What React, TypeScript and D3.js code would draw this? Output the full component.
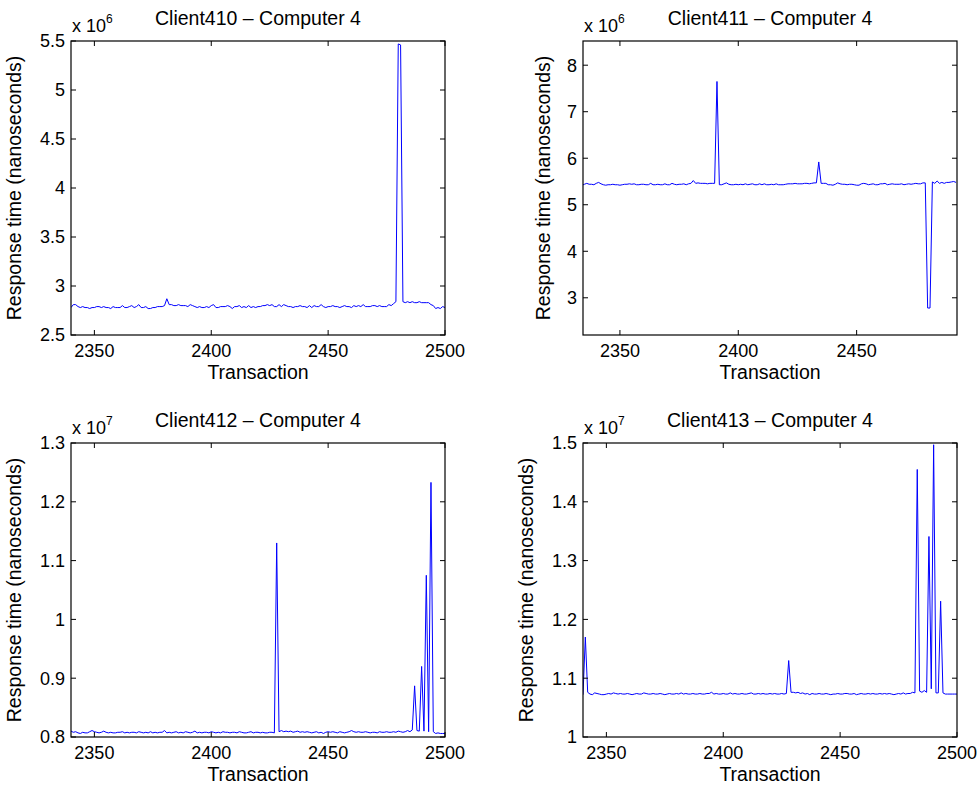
import React from "react";
import * as d3 from "d3";

// ---------- data ----------
const titles = ["Client410 – Computer 4", "Client411 – Computer 4", "Client412 – Computer 4", "Client413 – Computer 4"];
const exponents = ["6", "6", "7", "7"];
const startTransaction = [2340, 2334, 2340, 2340];
const xDomains: [number, number][] = [[2340, 2500], [2334.4, 2492.4], [2340, 2500], [2340, 2500]];
const yDomains: [number, number][] = [[2.5, 5.5], [2.2, 8.52], [0.8, 1.3], [1.0, 1.5]];
const xTicks = [[2350, 2400, 2450, 2500], [2350, 2400, 2450], [2350, 2400, 2450, 2500], [2350, 2400, 2450, 2500]];
const yTicks = [
  [2.5, 3, 3.5, 4, 4.5, 5, 5.5],
  [3, 4, 5, 6, 7, 8],
  [0.8, 0.9, 1, 1.1, 1.2, 1.3],
  [1, 1.1, 1.2, 1.3, 1.4, 1.5],
];

// Client410 (x 1e6), transactions 2340..2500
const client410 = [
  2.78, 2.81, 2.81, 2.79, 2.78, 2.79, 2.78, 2.78, 2.77, 2.78,
  2.78, 2.79, 2.79, 2.78, 2.79, 2.78, 2.78, 2.77, 2.79, 2.78,
  2.78, 2.78, 2.80, 2.78, 2.78, 2.79, 2.80, 2.78, 2.79, 2.81,
  2.78, 2.78, 2.79, 2.77, 2.77, 2.78, 2.78, 2.79, 2.79, 2.79,
  2.80, 2.87, 2.81, 2.81, 2.80, 2.80, 2.81, 2.80, 2.80, 2.80,
  2.79, 2.81, 2.80, 2.79, 2.78, 2.79, 2.78, 2.78, 2.79, 2.78,
  2.80, 2.81, 2.78, 2.78, 2.79, 2.79, 2.79, 2.80, 2.79, 2.77,
  2.79, 2.79, 2.80, 2.78, 2.79, 2.78, 2.80, 2.78, 2.79, 2.78,
  2.79, 2.79, 2.80, 2.80, 2.81, 2.80, 2.81, 2.79, 2.79, 2.81,
  2.79, 2.81, 2.80, 2.79, 2.79, 2.78, 2.79, 2.79, 2.80, 2.79,
  2.79, 2.78, 2.80, 2.78, 2.80, 2.79, 2.79, 2.81, 2.79, 2.78,
  2.79, 2.79, 2.80, 2.79, 2.79, 2.78, 2.79, 2.80, 2.79, 2.79,
  2.78, 2.80, 2.79, 2.80, 2.79, 2.81, 2.79, 2.79, 2.79, 2.80,
  2.80, 2.79, 2.80, 2.79, 2.79, 2.79, 2.81, 2.80, 2.82, 2.84,
  5.47, 5.46, 2.84, 2.83, 2.84, 2.83, 2.84, 2.83, 2.83, 2.84,
  2.83, 2.83, 2.83, 2.83, 2.81, 2.80, 2.77, 2.78, 2.77, 2.79,
  2.78,
];

// Client411 (x 1e6), transactions 2334..2492
const client411 = [
  5.42, 5.44, 5.46, 5.44, 5.44, 5.43, 5.46, 5.48, 5.45, 5.43,
  5.42, 5.43, 5.43, 5.44, 5.43, 5.43, 5.42, 5.43, 5.44, 5.44,
  5.45, 5.44, 5.45, 5.43, 5.43, 5.44, 5.44, 5.43, 5.43, 5.46,
  5.43, 5.43, 5.44, 5.43, 5.43, 5.45, 5.43, 5.43, 5.46, 5.44,
  5.43, 5.44, 5.44, 5.45, 5.43, 5.45, 5.46, 5.52, 5.46, 5.47,
  5.46, 5.46, 5.46, 5.45, 5.46, 5.46, 5.46, 7.65, 5.43, 5.43,
  5.45, 5.47, 5.44, 5.43, 5.43, 5.44, 5.43, 5.44, 5.43, 5.45,
  5.43, 5.44, 5.45, 5.43, 5.43, 5.45, 5.43, 5.45, 5.43, 5.43,
  5.44, 5.43, 5.45, 5.43, 5.43, 5.43, 5.44, 5.45, 5.45, 5.45,
  5.46, 5.45, 5.45, 5.45, 5.46, 5.46, 5.45, 5.46, 5.47, 5.47,
  5.92, 5.46, 5.46, 5.46, 5.43, 5.43, 5.42, 5.44, 5.47, 5.45,
  5.44, 5.44, 5.43, 5.44, 5.44, 5.43, 5.42, 5.42, 5.45, 5.46,
  5.45, 5.43, 5.44, 5.45, 5.43, 5.43, 5.45, 5.45, 5.46, 5.43,
  5.44, 5.45, 5.44, 5.44, 5.44, 5.45, 5.43, 5.44, 5.45, 5.44,
  5.45, 5.46, 5.45, 5.45, 5.47, 5.47, 2.78, 2.78, 5.49, 5.46,
  5.51, 5.46, 5.48, 5.46, 5.48, 5.48, 5.49, 5.50, 5.48,
];

// Client412 (x 1e7), transactions 2340..2500
const client412 = [
  0.810, 0.808, 0.809, 0.807, 0.806, 0.808, 0.807, 0.807, 0.809, 0.811,
  0.809, 0.808, 0.807, 0.808, 0.810, 0.808, 0.807, 0.808, 0.807, 0.807,
  0.808, 0.808, 0.809, 0.807, 0.808, 0.807, 0.808, 0.808, 0.807, 0.809,
  0.808, 0.807, 0.808, 0.807, 0.809, 0.807, 0.808, 0.807, 0.808, 0.808,
  0.811, 0.807, 0.808, 0.807, 0.808, 0.809, 0.807, 0.808, 0.807, 0.809,
  0.808, 0.807, 0.808, 0.810, 0.807, 0.808, 0.807, 0.808, 0.808, 0.807,
  0.809, 0.808, 0.807, 0.808, 0.807, 0.809, 0.808, 0.808, 0.807, 0.808,
  0.808, 0.807, 0.809, 0.808, 0.807, 0.807, 0.808, 0.809, 0.807, 0.808,
  0.808, 0.807, 0.808, 0.807, 0.807, 0.808, 0.808, 0.807, 1.130, 0.809,
  0.811, 0.809, 0.810, 0.809, 0.810, 0.808, 0.809, 0.810, 0.808, 0.809,
  0.808, 0.809, 0.808, 0.807, 0.808, 0.809, 0.807, 0.808, 0.806, 0.808,
  0.809, 0.808, 0.809, 0.808, 0.807, 0.809, 0.808, 0.807, 0.808, 0.809,
  0.811, 0.809, 0.808, 0.809, 0.808, 0.808, 0.809, 0.808, 0.807, 0.808,
  0.808, 0.807, 0.809, 0.808, 0.808, 0.809, 0.808, 0.808, 0.809, 0.808,
  0.810, 0.809, 0.808, 0.809, 0.811, 0.809, 0.812, 0.887, 0.811, 0.810,
  0.920, 0.810, 1.075, 0.809, 1.233, 0.809, 0.806, 0.807, 0.806, 0.806,
  0.806,
];

// Client413 (x 1e7), transactions 2340..2500
const client413 = [
  1.072, 1.170, 1.076, 1.073, 1.072, 1.075, 1.074, 1.073, 1.072, 1.072,
  1.073, 1.074, 1.073, 1.075, 1.074, 1.073, 1.074, 1.073, 1.073, 1.074,
  1.073, 1.072, 1.073, 1.074, 1.073, 1.073, 1.075, 1.074, 1.073, 1.073,
  1.074, 1.073, 1.073, 1.074, 1.073, 1.072, 1.073, 1.074, 1.073, 1.073,
  1.074, 1.073, 1.075, 1.073, 1.074, 1.073, 1.073, 1.074, 1.073, 1.073,
  1.074, 1.073, 1.073, 1.074, 1.074, 1.076, 1.073, 1.074, 1.073, 1.073,
  1.074, 1.073, 1.073, 1.075, 1.073, 1.074, 1.073, 1.073, 1.074, 1.073,
  1.073, 1.074, 1.075, 1.073, 1.073, 1.074, 1.073, 1.074, 1.073, 1.073,
  1.074, 1.073, 1.074, 1.073, 1.073, 1.074, 1.073, 1.074, 1.130, 1.076,
  1.076, 1.075, 1.076, 1.074, 1.075, 1.073, 1.074, 1.072, 1.074, 1.073,
  1.073, 1.074, 1.073, 1.073, 1.074, 1.073, 1.072, 1.073, 1.073, 1.074,
  1.073, 1.073, 1.074, 1.074, 1.073, 1.073, 1.074, 1.072, 1.073, 1.074,
  1.073, 1.073, 1.074, 1.073, 1.074, 1.073, 1.073, 1.074, 1.073, 1.074,
  1.073, 1.074, 1.073, 1.072, 1.073, 1.074, 1.073, 1.075, 1.073, 1.074,
  1.074, 1.076, 1.075, 1.455, 1.078, 1.076, 1.079, 1.076, 1.341, 1.082,
  1.497, 1.075, 1.075, 1.231, 1.075, 1.073, 1.073, 1.073, 1.073, 1.073,
  1.073,
];

const seriesList = [client410, client411, client412, client413];

// ---------- layout ----------
const W = 980;
const H = 793;
const colX = [71, 583];
const rowY = [41, 443];
const PW = 374;
const PH = 294;
const FONT = "'Liberation Sans', Arial, Helvetica, sans-serif";
const TICK = 5;
const TICK_FS = 18;
const LABEL_FS = 19.5;

function Panel({ idx }: { idx: number }) {
  const x0 = colX[idx % 2];
  const y0 = rowY[Math.floor(idx / 2)];
  const xs = d3.scaleLinear().domain(xDomains[idx]).range([x0, x0 + PW]);
  const ys = d3.scaleLinear().domain(yDomains[idx]).range([y0 + PH, y0]);
  const data = seriesList[idx];
  const start = startTransaction[idx];
  const line = d3
    .line<number>()
    .x((_, i) => xs(start + i))
    .y((d) => ys(d));
  const clipId = `clip${idx}`;
  const ylabelX = idx === 1 ? x0 - 33 : x0 - 50;
  const fmt = d3.format("~g");
  return (
    <g>
      <defs>
        <clipPath id={clipId}>
          <rect x={x0} y={y0} width={PW} height={PH} />
        </clipPath>
      </defs>
      <path d={line(data) || ""} fill="none" stroke="#0000ff" strokeWidth={1} clipPath={`url(#${clipId})`} />
      <rect x={x0} y={y0} width={PW} height={PH} fill="none" stroke="#000" strokeWidth={1.2} />
      {xTicks[idx].map((t) => (
        <g key={`xt${t}`}>
          <line x1={xs(t)} x2={xs(t)} y1={y0 + PH} y2={y0 + PH - TICK} stroke="#000" />
          <line x1={xs(t)} x2={xs(t)} y1={y0} y2={y0 + TICK} stroke="#000" />
          <text x={xs(t)} y={y0 + PH + 22} textAnchor="middle" fontSize={TICK_FS}>
            {t}
          </text>
        </g>
      ))}
      {yTicks[idx].map((t) => (
        <g key={`yt${t}`}>
          <line x1={x0} x2={x0 + TICK} y1={ys(t)} y2={ys(t)} stroke="#000" />
          <line x1={x0 + PW} x2={x0 + PW - TICK} y1={ys(t)} y2={ys(t)} stroke="#000" />
          <text x={x0 - 6} y={ys(t) + 6.4} textAnchor="end" fontSize={TICK_FS}>
            {fmt(t)}
          </text>
        </g>
      ))}
      <text x={x0 + PW / 2} y={y0 - 16} textAnchor="middle" fontSize={LABEL_FS}>
        {titles[idx]}
      </text>
      <text x={x0 + 1} y={y0 - 9.5} fontSize={TICK_FS}>
        x 10
        <tspan dy={-9} fontSize={12}>
          {exponents[idx]}
        </tspan>
      </text>
      <text x={x0 + PW / 2} y={y0 + PH + 44} textAnchor="middle" fontSize={LABEL_FS}>
        Transaction
      </text>
      <text
        transform={`translate(${ylabelX},${y0 + PH / 2}) rotate(-90)`}
        textAnchor="middle"
        fontSize={LABEL_FS}
      >
        Response time (nanoseconds)
      </text>
    </g>
  );
}

export default function App() {
  return (
    <svg
      width={W}
      height={H}
      viewBox={`0 0 ${W} ${H}`}
      style={{ position: "absolute", left: 0, top: 0, background: "#fff" }}
      fontFamily={FONT}
    >
      <rect width={W} height={H} fill="#fff" />
      {[0, 1, 2, 3].map((i) => (
        <Panel key={i} idx={i} />
      ))}
    </svg>
  );
}
